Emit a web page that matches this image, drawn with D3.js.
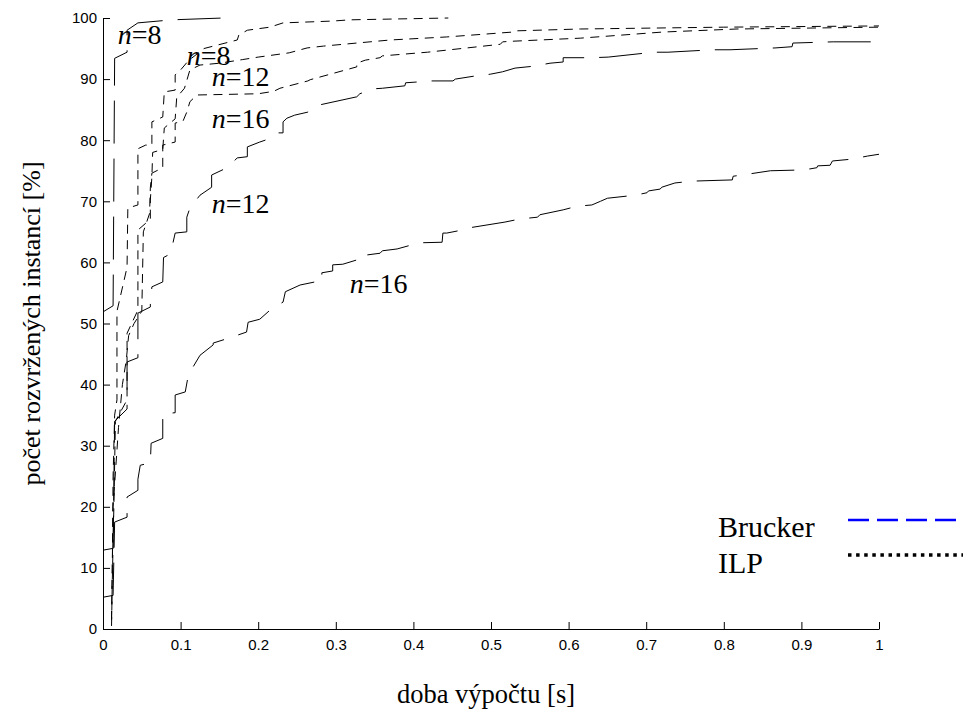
<!DOCTYPE html>
<html>
<head>
<meta charset="utf-8">
<script src="https://cdn.jsdelivr.net/npm/d3@7"></script>
<style>
  body { margin: 0; background: #fff; }
  .tick text { font-family: "Liberation Sans", Arial, sans-serif; font-size: 15px; }
</style>
</head>
<body>
<div id="chart"></div>
<script>
var xTicks = [0, 0.1, 0.2, 0.3, 0.4, 0.5, 0.6, 0.7, 0.8, 0.9, 1];
var yTicks = [0, 10, 20, 30, 40, 50, 60, 70, 80, 90, 100];

// Brucker, cas [s] / podil [%]
var brucker8 = [[0,51.9],[0.013,52.9],[0.015,93.4],[0.031,94.4],[0.031,98.0],[0.045,99.2],[0.089,99.7],[0.155,100]];

var brucker12 = [[0,12.9],[0.013,13.2],[0.015,34],[0.031,36],[0.031,43.7],[0.045,44.4],[0.045,51.7],[0.061,52.7],
  [0.061,53.2],[0.063,56],[0.077,56.8],[0.078,60.8],[0.087,61.4],[0.093,64.8],[0.108,65],[0.108,67.4],[0.112,68.9],
  [0.125,71.0],[0.14,72.3],[0.14,74.3],[0.16,75.5],[0.173,77.1],[0.186,77.3],[0.186,78.9],[0.202,79.7],[0.209,80],
  [0.225,81.2],[0.232,81.2],[0.232,83.0],[0.237,83.6],[0.247,84.1],[0.264,84.6],[0.28,85.8],[0.327,87.1],[0.331,87.6],
  [0.348,88.4],[0.36,88.5],[0.389,88.9],[0.39,89.4],[0.402,89.5],[0.424,89.7],[0.451,89.7],[0.454,90.0],[0.479,90.5],
  [0.499,90.8],[0.515,91.2],[0.531,91.8],[0.554,92.1],[0.576,92.6],[0.593,92.8],[0.593,93.5],[0.63,93.5],[0.651,93.6],
  [0.702,94.3],[0.707,94.4],[0.728,94.4],[0.786,94.8],[0.808,94.8],[0.866,95.1],[0.888,95.3],[0.889,95.9],[0.941,96.1],[1,96.1]];

var brucker16 = [[0,5.2],[0.013,5.5],[0.015,17.5],[0.031,18.3],[0.031,21.6],[0.045,22.7],[0.045,24.5],[0.048,26.8],
  [0.061,27.2],[0.062,30.4],[0.077,31.2],[0.077,35.2],[0.093,35.4],[0.093,38.3],[0.106,38.8],[0.11,41.6],[0.125,44.8],
  [0.142,46.5],[0.142,46.8],[0.162,47.6],[0.185,48.6],[0.187,50.2],[0.202,50.7],[0.218,52.5],[0.232,53.5],[0.235,55.2],
  [0.254,56.3],[0.273,56.8],[0.282,56.8],[0.282,58.3],[0.296,58.6],[0.296,59.6],[0.309,59.7],[0.327,60.4],[0.327,61.0],
  [0.357,61.5],[0.36,61.9],[0.379,62.2],[0.396,62.8],[0.406,63.2],[0.437,63.3],[0.438,64.8],[0.443,64.8],[0.463,65.3],
  [0.469,65.6],[0.518,66.6],[0.537,67.1],[0.56,67.4],[0.563,67.8],[0.593,68.6],[0.611,69.2],[0.63,69.4],[0.641,70.0],
  [0.65,70.5],[0.686,71.0],[0.701,71.4],[0.703,71.7],[0.718,72.0],[0.72,72.3],[0.737,73.0],[0.759,73.3],[0.811,73.5],
  [0.812,74.1],[0.834,74.5],[0.86,75.0],[0.891,75.1],[0.911,75.3],[0.92,75.5],[0.921,75.8],[0.937,75.9],[0.94,76.6],
  [0.965,76.9],[0.985,77.4],[1,77.7]];

// ILP
var ilp8 = [[0.011,1.5],[0.012,10],[0.013,25],[0.015,35],[0.018,37.5],[0.018,52],[0.031,59.2],[0.032,68.9],[0.045,69.4],
  [0.045,78.6],[0.055,79.2],[0.063,79.2],[0.063,83],[0.077,83.8],[0.079,87.9],[0.093,88.2],[0.093,90.7],[0.1,91.5],
  [0.11,93],[0.13,95],[0.173,96.4],[0.175,97.2],[0.186,98],[0.215,98.5],[0.232,99.2],[0.296,99.5],[0.318,99.7],[0.445,100]];

var ilp12 = [[0.011,0.5],[0.012,8],[0.014,20],[0.016,34],[0.031,37.5],[0.031,48.4],[0.045,52.2],[0.045,65.3],[0.055,66.4],
  [0.061,67],[0.061,70.2],[0.063,74],[0.064,78],[0.077,78.5],[0.079,82],[0.093,83.5],[0.095,87],[0.105,88.5],[0.112,91.5],
  [0.125,92.3],[0.15,92.6],[0.18,93.2],[0.2,93.6],[0.24,94.3],[0.263,95.1],[0.284,95.4],[0.37,96.4],[0.443,96.9],
  [0.528,97.7],[0.533,97.9],[0.615,98.2],[0.8,98.5],[1,98.7]];

var ilp16 = [[0.011,1.5],[0.012,10],[0.013,20],[0.02,33],[0.025,40],[0.03,44],[0.033,48],[0.04,50],[0.05,52],[0.052,65],
  [0.06,68],[0.061,72.2],[0.063,74.6],[0.077,75.5],[0.077,79.2],[0.093,79.7],[0.093,82.8],[0.103,83.1],[0.108,84.6],
  [0.112,86.3],[0.121,87.4],[0.2,87.6],[0.22,88],[0.228,88.5],[0.264,89.7],[0.267,89.9],[0.327,92.0],[0.327,92.6],
  [0.338,93.1],[0.357,93.5],[0.36,93.8],[0.418,94.4],[0.469,95.1],[0.512,95.7],[0.515,96.1],[0.528,96.2],[0.615,96.7],
  [0.721,97.7],[0.817,98.2],[1,98.5]];

var labels = [[0.019,95.7,"8"],[0.108,92.3,"8"],[0.140,88.9,"12"],[0.140,82.0,"16"],[0.140,68.1,"12"],[0.318,55.0,"16"]];

var width = 970, height = 717;
var margin = { top: 18, right: 91, bottom: 88, left: 103 };

var svg = d3.select("#chart").append("svg")
  .attr("width", width)
  .attr("height", height);

var x = d3.scaleLinear().domain([0, 1]).range([margin.left, width - margin.right]);
var y = d3.scaleLinear().domain([0, 100]).range([height - margin.bottom, margin.top]);

var line = d3.line()
  .x(function(d) { return x(d[0]); })
  .y(function(d) { return y(d[1]); });

// axes, ticks point inward like matlab
svg.append("g")
  .attr("transform", "translate(0," + y(0) + ")")
  .call(d3.axisBottom(x).tickValues(xTicks).tickSizeInner(-7).tickSizeOuter(0).tickPadding(10)
    .tickFormat(function(d) { return d3.format("")(d); }))
  .call(function(g) {
    g.select(".domain").attr("stroke", "#000");
    g.selectAll(".tick line").attr("stroke", "#000");
    g.selectAll(".tick text").attr("fill", "#000");
  });

svg.append("g")
  .attr("transform", "translate(" + x(0) + ",0)")
  .call(d3.axisLeft(y).tickValues(yTicks).tickSizeInner(-7).tickSizeOuter(0).tickPadding(6))
  .call(function(g) {
    g.select(".domain").attr("stroke", "#000");
    g.selectAll(".tick line").attr("stroke", "#000");
    g.selectAll(".tick text").attr("fill", "#000");
  });

function drawCurve(data, dash) {
  svg.append("path")
    .datum(data)
    .attr("fill", "none")
    .attr("stroke", "#000")
    .attr("stroke-width", 1)
    .attr("stroke-dasharray", dash)
    .attr("d", line);
}

drawCurve(brucker8, "43,15");
drawCurve(brucker12, "43,15");
drawCurve(brucker16, "43,15");
drawCurve(ilp8, "9,6.5");
drawCurve(ilp12, "9,6.5");
drawCurve(ilp16, "9,6.5");

var lab = svg.append("g")
  .attr("font-family", "'Liberation Serif', 'Times New Roman', serif")
  .attr("font-size", 28)
  .selectAll("text")
  .data(labels)
  .enter().append("text")
  .attr("x", function(d) { return x(d[0]); })
  .attr("y", function(d) { return y(d[1]); });
lab.append("tspan").attr("font-style", "italic").text("n");
lab.append("tspan").text(function(d) { return "=" + d[2]; });

// axis titles
svg.append("text")
  .attr("x", 486)
  .attr("y", 703)
  .attr("text-anchor", "middle")
  .attr("font-family", "'Liberation Serif', 'Times New Roman', serif")
  .attr("font-size", 26.5)
  .text("doba výpočtu [s]");

svg.append("text")
  .attr("transform", "translate(40," + (y(0) + y(100)) / 2 + ") rotate(-90)")
  .attr("text-anchor", "middle")
  .attr("font-family", "'Liberation Serif', 'Times New Roman', serif")
  .attr("font-size", 26)
  .text("počet rozvržených instancí [%]");

// legend
var legend = svg.append("g")
  .attr("font-family", "'Liberation Serif', 'Times New Roman', serif")
  .attr("font-size", 30);

legend.append("text").attr("x", 718).attr("y", 537).text("Brucker");
legend.append("text").attr("x", 718).attr("y", 573).text("ILP");

legend.append("line")
  .attr("x1", 848).attr("x2", 958).attr("y1", 520).attr("y2", 520)
  .attr("stroke", "#0000ff").attr("stroke-width", 2.7).attr("stroke-dasharray", "21,8");

legend.append("line")
  .attr("x1", 848).attr("x2", 963).attr("y1", 555).attr("y2", 555)
  .attr("stroke", "#000").attr("stroke-width", 3.5).attr("stroke-dasharray", "3.5,4.6");
</script>
</body>
</html>
